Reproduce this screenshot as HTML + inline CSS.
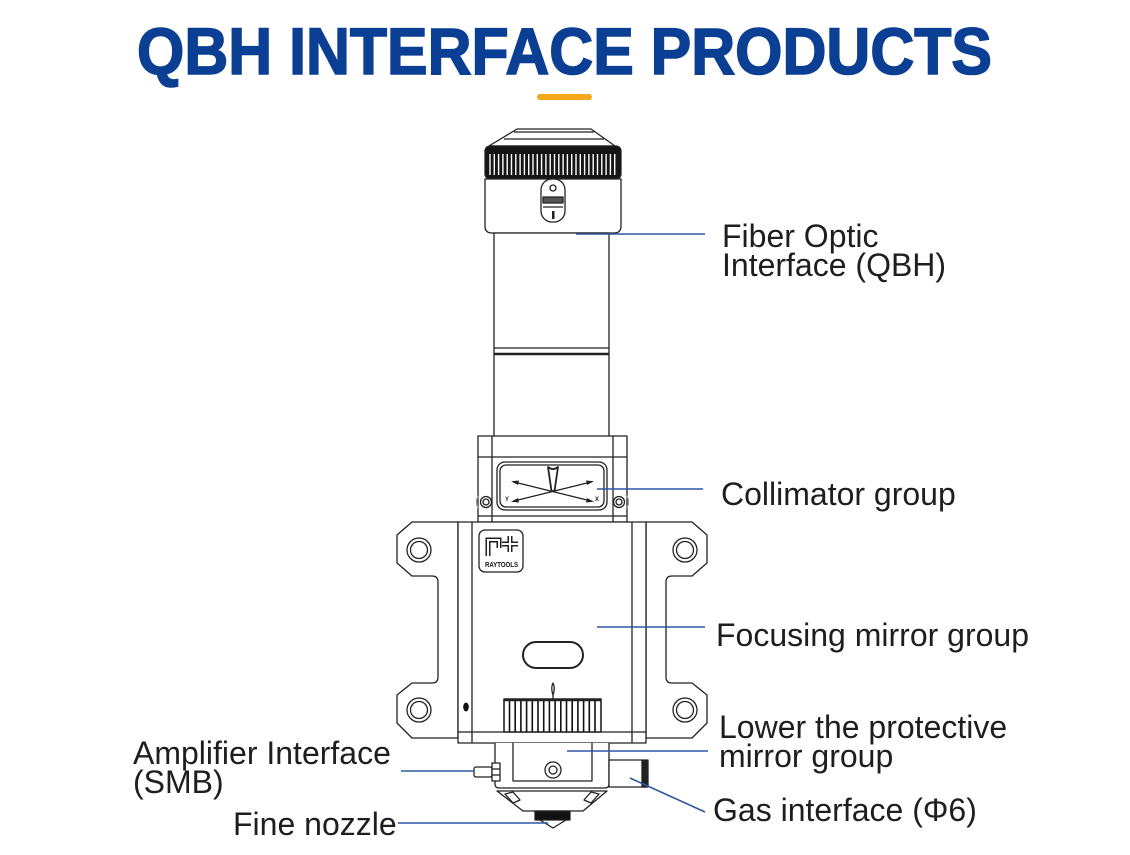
<!DOCTYPE html>
<html>
<head>
<meta charset="utf-8">
<style>
  html,body{margin:0;padding:0;background:#fff;}
  body{width:1130px;height:855px;overflow:hidden;}
  svg{display:block;}
  .lbl{font-family:"Liberation Sans",Arial,sans-serif;font-size:32px;fill:#1e1e1e;}
</style>
</head>
<body>
<svg width="1130" height="855" viewBox="0 0 1130 855" xmlns="http://www.w3.org/2000/svg">
  <rect width="1130" height="855" fill="#fff"/>

  <!-- Title -->
  <text x="137" y="74" font-family="'Liberation Sans',Arial,sans-serif" font-weight="bold" font-size="66" fill="#0b3f94" stroke="#0b3f94" stroke-width="1.6" textLength="855" lengthAdjust="spacingAndGlyphs">QBH INTERFACE PRODUCTS</text>
  <rect x="537" y="94" width="55" height="6" rx="3" fill="#f5a81c"/>

  <g fill="#fff" stroke="#222" stroke-width="1.3" stroke-linejoin="round">
    <!-- Top cap -->
    <path d="M517,129 L591,129 L615,146 L489,146 Z"/>
    <line x1="514" y1="132" x2="594" y2="132"/>
    <line x1="504" y1="139" x2="604" y2="139"/>

    <!-- Knurled band -->
    <rect x="485" y="146" width="136" height="33" rx="5" fill="#151515"/>
    <g stroke="#fff" stroke-width="1.4">
      <line x1="490" y1="154" x2="490" y2="175"/><line x1="494.3" y1="154" x2="494.3" y2="175"/>
      <line x1="498.6" y1="154" x2="498.6" y2="175"/><line x1="502.9" y1="154" x2="502.9" y2="175"/>
      <line x1="507.2" y1="154" x2="507.2" y2="175"/><line x1="511.5" y1="154" x2="511.5" y2="175"/>
      <line x1="515.8" y1="154" x2="515.8" y2="175"/><line x1="520.1" y1="154" x2="520.1" y2="175"/>
      <line x1="524.4" y1="154" x2="524.4" y2="175"/><line x1="528.7" y1="154" x2="528.7" y2="175"/>
      <line x1="533" y1="154" x2="533" y2="175"/><line x1="537.3" y1="154" x2="537.3" y2="175"/>
      <line x1="541.6" y1="154" x2="541.6" y2="175"/><line x1="545.9" y1="154" x2="545.9" y2="175"/>
      <line x1="550.2" y1="154" x2="550.2" y2="175"/><line x1="554.5" y1="154" x2="554.5" y2="175"/>
      <line x1="558.8" y1="154" x2="558.8" y2="175"/><line x1="563.1" y1="154" x2="563.1" y2="175"/>
      <line x1="567.4" y1="154" x2="567.4" y2="175"/><line x1="571.7" y1="154" x2="571.7" y2="175"/>
      <line x1="576" y1="154" x2="576" y2="175"/><line x1="580.3" y1="154" x2="580.3" y2="175"/>
      <line x1="584.6" y1="154" x2="584.6" y2="175"/><line x1="588.9" y1="154" x2="588.9" y2="175"/>
      <line x1="593.2" y1="154" x2="593.2" y2="175"/><line x1="597.5" y1="154" x2="597.5" y2="175"/>
      <line x1="601.8" y1="154" x2="601.8" y2="175"/><line x1="606.1" y1="154" x2="606.1" y2="175"/>
      <line x1="610.4" y1="154" x2="610.4" y2="175"/><line x1="614.7" y1="154" x2="614.7" y2="175"/>
    </g>

    <!-- Ring -->
    <path d="M485,179 L485,226 Q485,233 492,233 L614,233 Q621,233 621,226 L621,179 Z"/>
    <!-- Latch -->
    <rect x="541" y="179" width="24" height="43" rx="11"/>
    <circle cx="553" cy="188" r="3"/>
    <rect x="543" y="197" width="20" height="6" fill="#555"/>
    <line x1="543" y1="207" x2="563" y2="207"/>
    <rect x="552" y="211" width="2.5" height="8" fill="#222" stroke="none"/>

    <!-- Tube -->
    <rect x="494" y="233" width="115" height="204"/>
    <line x1="494" y1="348" x2="609" y2="348"/>
    <line x1="494" y1="354" x2="609" y2="354" stroke-width="2.6"/>

    <!-- Collimator box -->
    <rect x="478" y="436" width="149" height="86"/>
    <line x1="492" y1="436" x2="492" y2="522"/>
    <line x1="613" y1="436" x2="613" y2="522"/>
    <line x1="478" y1="457" x2="627" y2="457"/>
    <line x1="478" y1="516" x2="627" y2="516"/>
    <rect x="497" y="462" width="110" height="48" rx="8"/>
    <rect x="500" y="465" width="104" height="42" rx="6"/>
    <path d="M548,467 Q553,471 558,467 L554.5,491 L551.5,491 Z" stroke-width="1.8"/>
    <line x1="514" y1="482" x2="591" y2="501"/>
    <line x1="514" y1="501" x2="591" y2="482"/>
    <g fill="#222" stroke="none">
      <path d="M511,481.3 L519,480.5 L518,485 Z"/>
      <path d="M594,501.7 L586,502.5 L587,498 Z"/>
      <path d="M511,501.7 L518,498 L519,502.5 Z"/>
      <path d="M594,481.3 L587,485 L586,480.5 Z"/>
    </g>
    <text x="505" y="501" font-family="'Liberation Sans',sans-serif" font-size="6" font-weight="bold" fill="#222" stroke="none">Y</text>
    <text x="595" y="501" font-family="'Liberation Sans',sans-serif" font-size="6" font-weight="bold" fill="#222" stroke="none">X</text>
    <!-- side screws -->
    <path d="M479,495 Q474,502 479,509" fill="none" stroke="#999"/>
    <path d="M626,495 Q631,502 626,509" fill="none" stroke="#999"/>
    <circle cx="486" cy="502" r="5.5"/><circle cx="486" cy="502" r="3"/>
    <circle cx="619" cy="502" r="5.5"/><circle cx="619" cy="502" r="3"/>

    <!-- Mounting plate -->
    <path d="M458,522 L412,522 L397,535 L397,563 L412,576 L432,576 Q438,576 438,582 L438,677 Q438,683 432,683 L412,683 L397,695 L397,723 L412,738 L458,738 Z"/>
    <path d="M646,522 L692,522 L707,535 L707,563 L692,576 L672,576 Q666,576 666,582 L666,677 Q666,683 672,683 L692,683 L707,695 L707,723 L692,738 L646,738 Z"/>
    <circle cx="419" cy="550" r="12"/><circle cx="419" cy="550" r="8.5"/>
    <circle cx="419" cy="710" r="12"/><circle cx="419" cy="710" r="8.5"/>
    <circle cx="685" cy="550" r="12"/><circle cx="685" cy="550" r="8.5"/>
    <circle cx="685" cy="710" r="12"/><circle cx="685" cy="710" r="8.5"/>

    <!-- Main body -->
    <rect x="458" y="522" width="188" height="221"/>
    <line x1="472" y1="522" x2="472" y2="743"/>
    <line x1="632" y1="522" x2="632" y2="743"/>
    <line x1="458" y1="732" x2="646" y2="732"/>
    <ellipse cx="466" cy="707" rx="2.8" ry="4.5" fill="#111" stroke="none"/>

    <!-- Logo -->
    <rect x="479" y="530" width="44" height="42" rx="6"/>
    <polyline points="488,556 488,540 499,540 499,548" fill="none" stroke="#222" stroke-width="5" stroke-linejoin="miter"/>
    <polyline points="488,556 488,540 499,540 499,548" fill="none" stroke="#fff" stroke-width="2" stroke-linejoin="miter"/>
    <path d="M510,536 L510,552 M502,544 L518,544" fill="none" stroke="#222" stroke-width="5"/>
    <path d="M510,536 L510,552 M502,544 L518,544" fill="none" stroke="#fff" stroke-width="2"/>
    <text x="485" y="567" font-family="'Liberation Sans',sans-serif" font-size="7.5" font-weight="bold" fill="#111" stroke="none" textLength="33" lengthAdjust="spacingAndGlyphs">RAYTOOLS</text>

    <!-- Slot -->
    <rect x="523" y="642" width="60" height="26" rx="13" stroke-width="2"/>

    <!-- Knurl wheel -->
    <path d="M553,683 Q550.5,688 553,695 Q555.5,688 553,683 Z"/>
    <line x1="553" y1="695" x2="553" y2="699"/>
    <rect x="504" y="699" width="97" height="33" stroke-width="1.6"/>
    <g stroke="#111" stroke-width="1.6">
      <line x1="509.5" y1="699" x2="509.5" y2="732"/><line x1="515.2" y1="699" x2="515.2" y2="732"/>
      <line x1="520.9" y1="699" x2="520.9" y2="732"/><line x1="526.6" y1="699" x2="526.6" y2="732"/>
      <line x1="532.3" y1="699" x2="532.3" y2="732"/><line x1="538" y1="699" x2="538" y2="732"/>
      <line x1="543.7" y1="699" x2="543.7" y2="732"/><line x1="549.4" y1="699" x2="549.4" y2="732"/>
      <line x1="555.1" y1="699" x2="555.1" y2="732"/><line x1="560.8" y1="699" x2="560.8" y2="732"/>
      <line x1="566.5" y1="699" x2="566.5" y2="732"/><line x1="572.2" y1="699" x2="572.2" y2="732"/>
      <line x1="577.9" y1="699" x2="577.9" y2="732"/><line x1="583.6" y1="699" x2="583.6" y2="732"/>
      <line x1="589.3" y1="699" x2="589.3" y2="732"/><line x1="595" y1="699" x2="595" y2="732"/>
    </g>
    <line x1="504" y1="700" x2="601" y2="700" stroke-width="2.5"/>

    <!-- Lower section -->
    <path d="M495,743 L495,784 Q495,788 499,788 L605,788 Q609,788 609,784 L609,743"/>
    <path d="M513,743 L513,781 L592,781 L592,743"/>
    <circle cx="553" cy="770" r="8"/><circle cx="553" cy="770" r="4"/>
    <path d="M497,791 L607,791 L583,811 L523,811 Z"/>
    <path d="M505,794 L513,792 L520,800 L513,803 Z"/>
    <path d="M599,794 L591,792 L584,800 L591,803 Z"/>
    <rect x="535" y="811" width="35" height="9" fill="#111"/>
    <path d="M540,820 L553,828 L566,820 Z"/>

    <!-- SMB connector -->
    <rect x="474" y="767" width="18" height="10" rx="2"/>
    <rect x="492" y="763" width="8" height="18"/>
    <line x1="492" y1="769" x2="500" y2="769"/>
    <line x1="492" y1="775" x2="500" y2="775"/>

    <!-- Gas connector -->
    <rect x="609" y="760" width="39" height="27"/>
    <rect x="642" y="761" width="5" height="26" fill="#222"/>
  </g>

  <!-- Leader lines -->
  <g stroke="#2f56a6" stroke-width="1.6" fill="none">
    <line x1="576" y1="234" x2="705" y2="234"/>
    <line x1="597" y1="489" x2="703" y2="489"/>
    <line x1="597" y1="627" x2="705" y2="627"/>
    <line x1="567" y1="751" x2="708" y2="751"/>
    <line x1="630" y1="778" x2="705" y2="812"/>
    <line x1="401" y1="771" x2="474" y2="771"/>
    <line x1="398" y1="823" x2="548" y2="823"/>
  </g>

  <!-- Labels -->
  <text class="lbl" x="722" y="247">Fiber Optic</text>
  <text class="lbl" x="722" y="276">Interface (QBH)</text>
  <text class="lbl" x="721" y="505">Collimator group</text>
  <text class="lbl" x="716" y="646">Focusing mirror group</text>
  <text class="lbl" x="719" y="738">Lower the protective</text>
  <text class="lbl" x="719" y="767">mirror group</text>
  <text class="lbl" x="713" y="821">Gas interface (Φ6)</text>
  <text class="lbl" x="133" y="764">Amplifier Interface</text>
  <text class="lbl" x="133" y="793">(SMB)</text>
  <text class="lbl" x="233" y="835">Fine nozzle</text>
</svg>
</body>
</html>
